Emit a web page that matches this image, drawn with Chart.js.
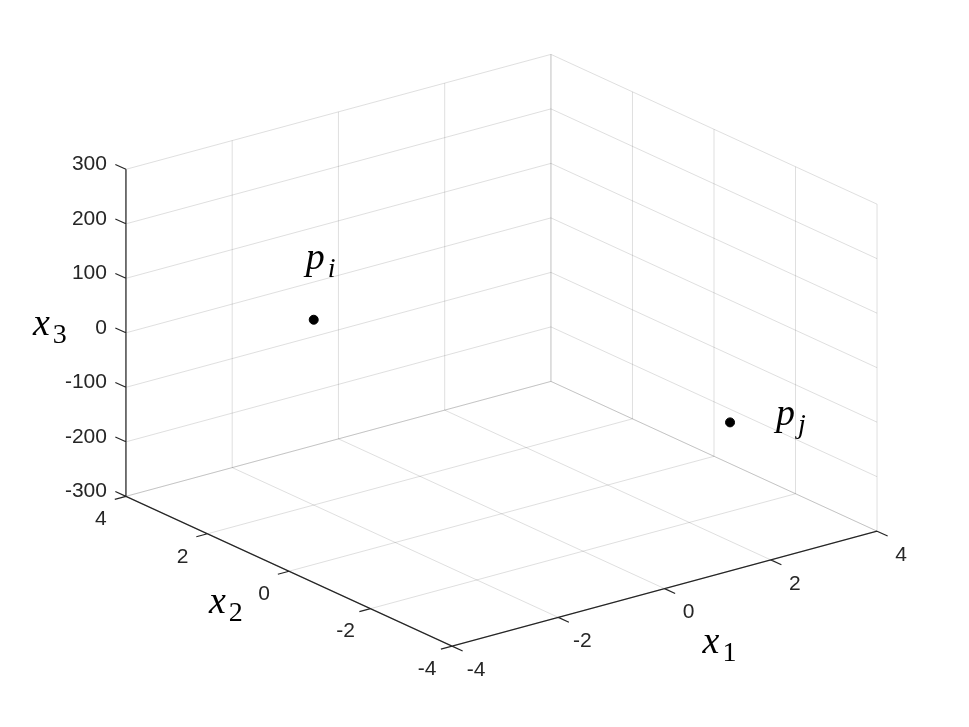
<!DOCTYPE html>
<html>
<head>
<meta charset="utf-8">
<script src="https://cdn.jsdelivr.net/npm/chart.js@4.4.1/dist/chart.umd.min.js"></script>
<style>
  html, body { margin: 0; background: #fff; }
  canvas { display: block; }
</style>
</head>
<body>
<canvas id="chart" width="969" height="727"></canvas>
<script>
// axis ticks (x1, x2, x3)
const x1Ticks = [-4, -2, 0, 2, 4];
const x2Ticks = [-4, -2, 0, 2, 4];
const x3Ticks = [-300, -200, -100, 0, 100, 200, 300];

// the two marked points
const pointNames = ['i', 'j'];
const pointX1 = [-2, 2];
const pointX2 = [2, -3];
const pointX3 = [40, -82];

const lim = { x1: [-4, 4], x2: [-4, 4], x3: [-300, 300] };

// matlab default 3d view, stretched to fill the figure
const view = { az: -37.5, el: 30, cx: 501.5, cy: 350.25, kx: 535.7, ky: 377.6 };

const AXIS_COLOR = '#262626';
const GRID_COLOR = 'rgba(38,38,38,0.15)';

function norm(v, [lo, hi]) {
  return (v - (lo + hi) / 2) / (hi - lo);
}

// 3d data -> value on the (pixel sized) hidden scales
function project(a, b, c) {
  const az = view.az * Math.PI / 180;
  const el = view.el * Math.PI / 180;
  const u = norm(a, lim.x1);
  const v = norm(b, lim.x2);
  const w = norm(c, lim.x3);
  const sx = Math.cos(az) * u + Math.sin(az) * v;
  const up = -Math.sin(el) * Math.sin(az) * u + Math.sin(el) * Math.cos(az) * v + Math.cos(el) * w;
  return { x: view.cx + view.kx * sx, y: view.cy - view.ky * up };
}

function segments(list) {
  const out = [];
  list.forEach(([p, q]) => {
    out.push(project(...p), project(...q), { x: null, y: null });
  });
  return out;
}

const [x1Min, x1Max] = lim.x1;
const [x2Min, x2Max] = lim.x2;
const [x3Min, x3Max] = lim.x3;

const gridSegs = [];
x1Ticks.forEach((t) => {
  gridSegs.push([[t, x2Max, x3Min], [t, x2Max, x3Max]]);
  gridSegs.push([[t, x2Min, x3Min], [t, x2Max, x3Min]]);
});
x2Ticks.forEach((t) => {
  gridSegs.push([[x1Max, t, x3Min], [x1Max, t, x3Max]]);
  gridSegs.push([[x1Min, t, x3Min], [x1Max, t, x3Min]]);
});
x3Ticks.forEach((t) => {
  gridSegs.push([[x1Min, x2Max, t], [x1Max, x2Max, t]]);
  gridSegs.push([[x1Max, x2Min, t], [x1Max, x2Max, t]]);
});

const axisSegs = [
  [[x1Min, x2Max, x3Min], [x1Min, x2Max, x3Max]],
  [[x1Min, x2Min, x3Min], [x1Min, x2Max, x3Min]],
  [[x1Min, x2Min, x3Min], [x1Max, x2Min, x3Min]],
];
const tickX1 = 0.21;
const tickX2 = 0.26;
x3Ticks.forEach((t) => axisSegs.push([[x1Min, x2Max, t], [x1Min, x2Max + tickX2, t]]));
x2Ticks.forEach((t) => axisSegs.push([[x1Min, t, x3Min], [x1Min - tickX1, t, x3Min]]));
x1Ticks.forEach((t) => axisSegs.push([[t, x2Min, x3Min], [t, x2Min - tickX2, x3Min]]));

const pointData = pointNames.map((_, i) => project(pointX1[i], pointX2[i], pointX3[i]));

function drawMath(ctx, base, sub, x, y, subItalic) {
  ctx.font = 'italic 38px "Liberation Serif", serif';
  ctx.textAlign = 'left';
  ctx.textBaseline = 'alphabetic';
  ctx.fillText(base, x, y);
  const w = ctx.measureText(base).width;
  ctx.font = (subItalic ? 'italic ' : '') + '28px "Liberation Serif", serif';
  ctx.fillText(sub, x + w + 3, y + 8);
}

const labels3d = {
  id: 'labels3d',
  afterDatasetsDraw(chart) {
    const { ctx, scales } = chart;
    const px = (p) => ({ x: scales.x.getPixelForValue(p.x), y: scales.y.getPixelForValue(p.y) });
    ctx.save();
    ctx.fillStyle = AXIS_COLOR;
    ctx.font = '21px "Liberation Sans", Arial, sans-serif';

    ctx.textAlign = 'right';
    ctx.textBaseline = 'middle';
    x3Ticks.forEach((t) => {
      const p = px(project(x1Min, x2Max, t));
      ctx.fillText(String(t), p.x - 19, p.y - 5);
    });
    ctx.textAlign = 'center';
    x2Ticks.forEach((t) => {
      const p = px(project(x1Min, t, x3Min));
      ctx.fillText(String(t), p.x - 25, p.y + 23);
    });
    x1Ticks.forEach((t) => {
      const p = px(project(t, x2Min, x3Min));
      ctx.fillText(String(t), p.x + 24, p.y + 24);
    });

    ctx.fillStyle = '#000';
    let a = px(project(x1Min, x2Max, 0));
    drawMath(ctx, 'x', '3', a.x - 93, a.y + 2, false);
    a = px(project(x1Min, 0, x3Min));
    drawMath(ctx, 'x', '2', a.x - 80, a.y + 42, false);
    a = px(project(0, x2Min, x3Min));
    drawMath(ctx, 'x', '1', a.x + 38, a.y + 64, false);

    const nameOffsets = [[-8, -51], [46, 3]];
    pointData.forEach((p, i) => {
      const q = px(p);
      drawMath(ctx, 'p', pointNames[i], q.x + nameOffsets[i][0], q.y + nameOffsets[i][1], true);
    });
    ctx.restore();
  },
};

new Chart(document.querySelector('#chart'), {
  type: 'scatter',
  data: {
    datasets: [
      {
        label: 'grid',
        data: segments(gridSegs),
        showLine: true,
        spanGaps: false,
        borderColor: GRID_COLOR,
        borderWidth: 1,
        pointRadius: 0,
      },
      {
        label: 'axes',
        data: segments(axisSegs),
        showLine: true,
        spanGaps: false,
        borderColor: AXIS_COLOR,
        borderWidth: 1.2,
        pointRadius: 0,
      },
      {
        label: 'points',
        data: pointData,
        pointRadius: 4.5,
        pointBackgroundColor: '#000',
        pointBorderColor: '#000',
        showLine: false,
      },
    ],
  },
  options: {
    responsive: false,
    animation: false,
    layout: { padding: 0, autoPadding: false },
    plugins: { legend: { display: false }, tooltip: { enabled: false } },
    scales: {
      x: { type: 'linear', min: 0, max: 969, display: false },
      y: { type: 'linear', min: 0, max: 727, reverse: true, display: false },
    },
  },
  plugins: [labels3d],
});
</script>
</body>
</html>
